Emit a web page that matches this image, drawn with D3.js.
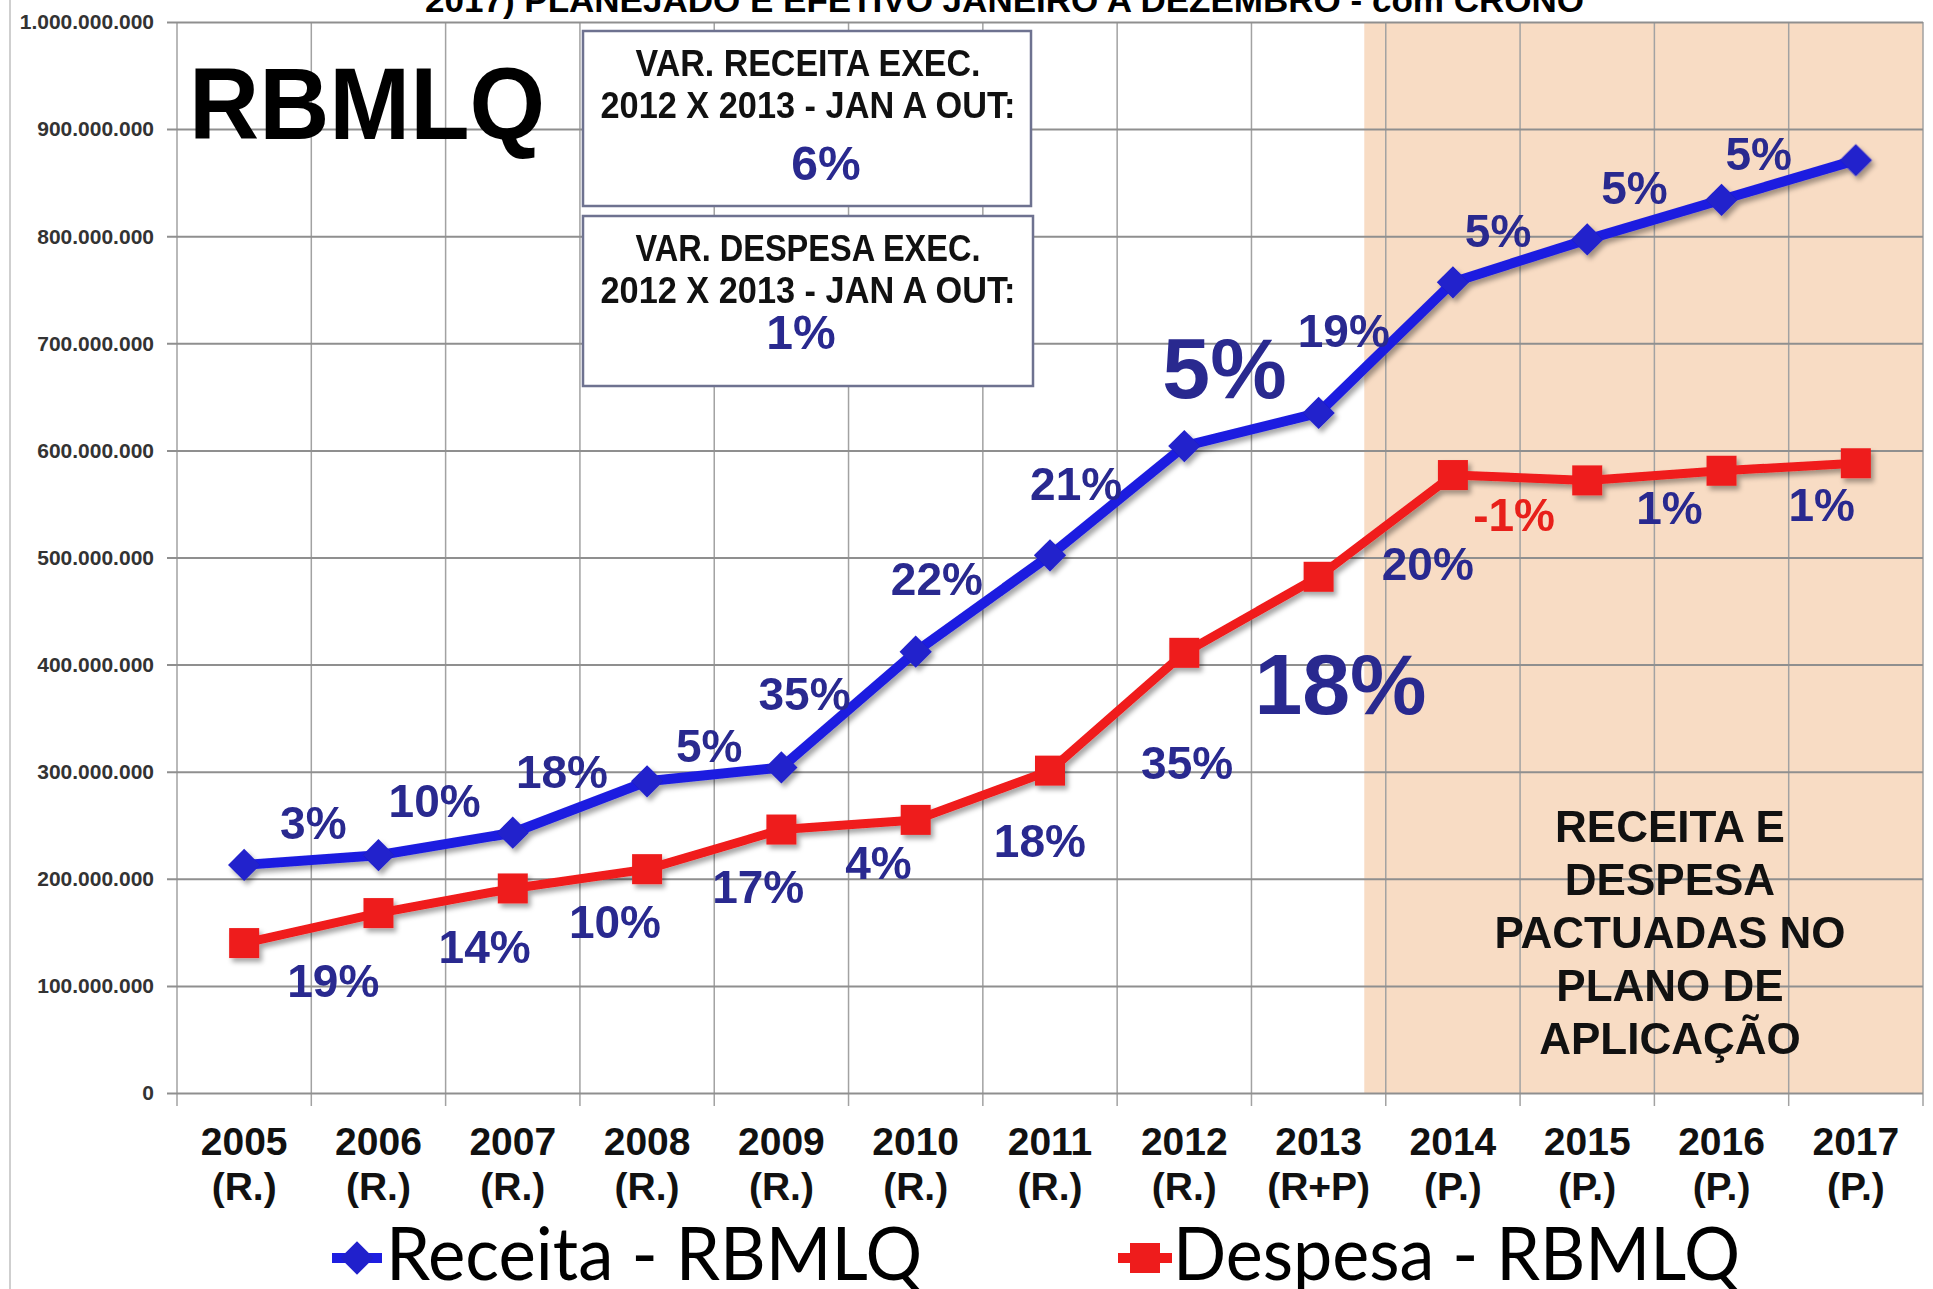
<!DOCTYPE html>
<meta charset="utf-8">
<style>
body {
  margin: 0;
  background-color: #ffffff;
}
svg text {
  font-family: "Liberation Sans", Arial, sans-serif;
  font-weight: bold;
}
.grid-h line {
  stroke: #8f8f8f;
  stroke-width: 2px;
}
.grid-v line {
  stroke: #a2a2a2;
  stroke-width: 1.5px;
}
.ylab {
  fill: #333;
  font-size: 21px;
}
.xlab {
  fill: #111;
  font-size: 39px;
}
.var {
  fill: #29298f;
  font-size: 46px;
}
.legend text {
  font-family: Lato, "Open Sans", sans-serif;
  font-weight: normal;
  fill: #000;
  font-size: 74px;
}
</style>
<svg width="1933" height="1289"></svg>
<script src="https://d3js.org/d3.v7.min.js"></script>
<script>
// data
var categories = ["2005", "2006", "2007", "2008", "2009", "2010", "2011", "2012", "2013", "2014", "2015", "2016", "2017"];
var periods = ["(R.)", "(R.)", "(R.)", "(R.)", "(R.)", "(R.)", "(R.)", "(R.)", "(R+P)", "(P.)", "(P.)", "(P.)", "(P.)"];
var receita = [213e6, 222e6, 243e6, 291e6, 304e6, 412e6, 502e6, 604e6, 635e6, 757e6, 797e6, 834e6, 871e6];
var despesa = [140e6, 168e6, 191e6, 209e6, 246e6, 255e6, 301e6, 411e6, 482e6, 577e6, 572e6, 581e6, 588e6];
var receitaVar = ["3%", "10%", "18%", "5%", "35%", "22%", "21%", "5%", "19%", "5%", "5%", "5%"];
var despesaVar = ["19%", "14%", "10%", "17%", "4%", "18%", "35%", "18%", "20%", "-1%", "1%", "1%"];
var yMax = 1e9;

// label placement (px offset from segment midpoint)
var receitaOff = [[2,-37],[-11,-43],[-18,-35],[-5,-28],[-44,-16],[-46,-25],[-41,-17],[-27,-62],[-42,-17],[-22,-30],[-20,-32],[-30,-26]];
var despesaOff = [[22,53],[39,46],[35,43],[44,38],[30,38],[57,46],[70,51],[89,69],[42,38],[-6,37],[15,32],[33,38]];
var bigLabel = 7; // the 2012->2013 labels are drawn large

var svg = d3.select("svg"),
    margin = {top: 22, right: 10, bottom: 196, left: 177},
    width = +svg.attr("width") - margin.left - margin.right,
    height = +svg.attr("height") - margin.top - margin.bottom;

var x = d3.scaleBand().domain(categories).range([margin.left, margin.left + width]).padding(0);
var y = d3.scaleLinear().domain([0, yMax]).range([margin.top + height, margin.top]);
var cx = function(i) { return x(categories[i]) + x.bandwidth() / 2; };

var ptBR = d3.formatLocale({decimal: ",", thousands: ".", grouping: [3], currency: ["R$", ""]});
var fmt = ptBR.format(",");

var defs = svg.append("defs");
var sh = defs.append("filter").attr("id", "shadow").attr("x", "-20%").attr("y", "-20%").attr("width", "140%").attr("height", "140%");
sh.append("feDropShadow").attr("dx", 3).attr("dy", 4).attr("stdDeviation", 2.5).attr("flood-color", "#000").attr("flood-opacity", 0.35);

// chart border on the left
svg.append("line").attr("x1", 10).attr("x2", 10).attr("y1", 0).attr("y2", 1289)
    .attr("stroke", "#cfcfcf").attr("stroke-width", 2);

// title, cut off at the top edge as in the source
svg.append("text").attr("x", 425).attr("y", 12)
    .attr("font-size", 34).attr("textLength", 1159).attr("lengthAdjust", "spacingAndGlyphs")
    .text("2017) PLANEJADO E EFETIVO JANEIRO A DEZEMBRO - com CRONO");

// planned area
svg.append("rect")
    .attr("x", cx(8) + x.bandwidth() * 0.34)
    .attr("y", y(yMax))
    .attr("width", margin.left + width - (cx(8) + x.bandwidth() * 0.34))
    .attr("height", y(0) - y(yMax))
    .attr("fill", "#f8dcc4");

// vertical grid
svg.append("g").attr("class", "grid-v")
  .selectAll("line")
  .data(categories.concat(["end"]))
  .enter().append("line")
    .attr("x1", function(d, i) { return margin.left + i * x.bandwidth(); })
    .attr("x2", function(d, i) { return margin.left + i * x.bandwidth(); })
    .attr("y1", y(yMax))
    .attr("y2", y(0) + 13);

// horizontal grid + y labels
var gy = svg.append("g").attr("class", "grid-h")
    .attr("transform", "translate(" + (margin.left + width) + ",0)");
gy.call(d3.axisLeft(y).tickValues(y.ticks(10)).tickSize(width + 10).tickFormat(""));
gy.select(".domain").remove();
gy.selectAll(".tick line").attr("x1", 0);

svg.append("g").selectAll("text")
  .data(y.ticks(10))
  .enter().append("text")
    .attr("class", "ylab")
    .attr("x", 154)
    .attr("y", function(d) { return y(d); })
    .attr("dy", "0.35em")
    .attr("text-anchor", "end")
    .text(fmt);

// x labels
svg.append("g").selectAll("text")
  .data(categories)
  .enter().append("text")
    .attr("class", "xlab")
    .attr("text-anchor", "middle")
    .attr("x", function(d, i) { return cx(i); })
    .attr("y", 1155)
    .text(function(d) { return d; });
svg.append("g").selectAll("text")
  .data(periods)
  .enter().append("text")
    .attr("class", "xlab")
    .attr("text-anchor", "middle")
    .attr("x", function(d, i) { return cx(i); })
    .attr("y", 1200)
    .text(function(d) { return d; });

// series
var line = d3.line().x(function(d, i) { return cx(i); }).y(function(d) { return y(d); });

var gR = svg.append("g").attr("filter", "url(#shadow)");
gR.append("path").datum(despesa)
    .attr("d", line).attr("fill", "none").attr("stroke", "#f01a1a").attr("stroke-width", 9).attr("stroke-linejoin", "round");
gR.selectAll("path.m").data(despesa).enter().append("path").attr("class", "m")
    .attr("d", d3.symbol().type(d3.symbolSquare).size(900))
    .attr("transform", function(d, i) { return "translate(" + cx(i) + "," + y(d) + ")"; })
    .attr("fill", "#ee1c1c");

var gB = svg.append("g").attr("filter", "url(#shadow)");
gB.append("path").datum(receita)
    .attr("d", line).attr("fill", "none").attr("stroke", "#1e1ee0").attr("stroke-width", 10).attr("stroke-linejoin", "round");
gB.selectAll("path.m").data(receita).enter().append("path").attr("class", "m")
    .attr("d", d3.symbol().type(d3.symbolSquare).size(520))
    .attr("transform", function(d, i) { return "translate(" + cx(i) + "," + y(d) + ") rotate(45)"; })
    .attr("fill", "#2020cc");

// variation labels
function varLabels(vals, texts, offs) {
  svg.append("g").selectAll("text")
    .data(texts)
    .enter().append("text")
      .attr("class", "var")
      .attr("text-anchor", "middle")
      .attr("dominant-baseline", "central")
      .attr("x", function(d, i) { return (cx(i) + cx(i + 1)) / 2 + offs[i][0]; })
      .attr("y", function(d, i) { return (y(vals[i]) + y(vals[i + 1])) / 2 + offs[i][1]; })
      .style("font-size", function(d, i) { return i === bigLabel ? "86px" : null; })
      .style("fill", function(d) { return d.charAt(0) === "-" ? "#e8201a" : null; })
      .text(function(d) { return d; });
}
varLabels(receita, receitaVar, receitaOff);
varLabels(despesa, despesaVar, despesaOff);

// big title
svg.append("text").attr("x", 189).attr("y", 139)
    .attr("font-size", 102).attr("textLength", 356).attr("lengthAdjust", "spacingAndGlyphs")
    .attr("fill", "#000").text("RBMLQ");

// info boxes
var boxes = [
  {x: 583, y: 31, w: 448, h: 175, l1: "VAR. RECEITA EXEC.", l2: "2012 X 2013 - JAN A OUT:", v: "6%", b: [76, 118, 180], vx: 826},
  {x: 583, y: 216, w: 450, h: 170, l1: "VAR. DESPESA EXEC.", l2: "2012 X 2013 - JAN A OUT:", v: "1%", b: [261, 303, 349], vx: 801}
];
boxes.forEach(function(bx) {
  var g = svg.append("g");
  g.append("rect").attr("x", bx.x).attr("y", bx.y).attr("width", bx.w).attr("height", bx.h)
      .attr("fill", "#fff").attr("stroke", "#6e7290").attr("stroke-width", 2.5);
  g.append("text").attr("x", 808).attr("y", bx.b[0]).attr("text-anchor", "middle")
      .attr("font-size", 36).attr("textLength", 345).attr("lengthAdjust", "spacingAndGlyphs")
      .attr("fill", "#111").text(bx.l1);
  g.append("text").attr("x", 808).attr("y", bx.b[1]).attr("text-anchor", "middle")
      .attr("font-size", 36).attr("textLength", 415).attr("lengthAdjust", "spacingAndGlyphs")
      .attr("fill", "#111").text(bx.l2);
  g.append("text").attr("x", bx.vx).attr("y", bx.b[2]).attr("text-anchor", "middle")
      .attr("font-size", 48).attr("fill", "#29298f").text(bx.v);
});

// note in planned area
var note = ["RECEITA E", "DESPESA", "PACTUADAS NO", "PLANO DE", "APLICAÇÃO"];
svg.append("g").selectAll("text")
  .data(note)
  .enter().append("text")
    .attr("x", 1670)
    .attr("y", function(d, i) { return 842 + i * 53; })
    .attr("text-anchor", "middle")
    .attr("font-size", 44)
    .attr("fill", "#111")
    .text(function(d) { return d; });

// legend at the bottom edge
var lg = svg.append("g").attr("class", "legend");
lg.append("line").attr("x1", 332).attr("x2", 382).attr("y1", 1258).attr("y2", 1258)
    .attr("stroke", "#1e1ee0").attr("stroke-width", 10);
lg.append("path").attr("d", d3.symbol().type(d3.symbolSquare).size(560))
    .attr("transform", "translate(357,1258) rotate(45)").attr("fill", "#2020cc");
lg.append("text").attr("x", 386).attr("y", 1280)
    .attr("textLength", 536).attr("lengthAdjust", "spacingAndGlyphs").text("Receita - RBMLQ");
lg.append("line").attr("x1", 1118).attr("x2", 1172).attr("y1", 1258).attr("y2", 1258)
    .attr("stroke", "#f01a1a").attr("stroke-width", 10);
lg.append("path").attr("d", d3.symbol().type(d3.symbolSquare).size(900))
    .attr("transform", "translate(1145,1258)").attr("fill", "#ee1c1c");
lg.append("text").attr("x", 1173).attr("y", 1280)
    .attr("textLength", 567).attr("lengthAdjust", "spacingAndGlyphs").text("Despesa - RBMLQ");
</script>
